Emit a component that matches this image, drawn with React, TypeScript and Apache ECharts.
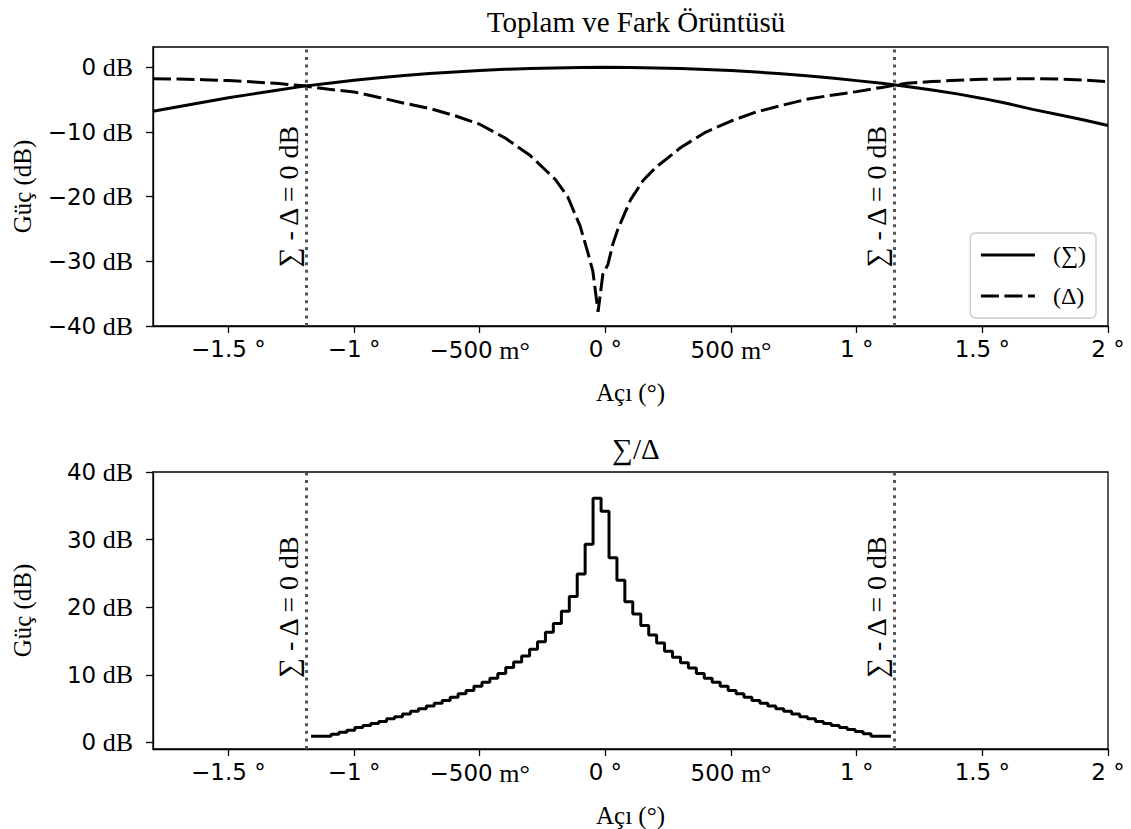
import React, { useEffect, useRef } from 'react';
import * as echarts from 'echarts';

// Top plot: sum pattern (Σ)
const sumX = [-1.8, -1.7, -1.6, -1.5, -1.4, -1.3, -1.2, -1.1, -1.0, -0.9, -0.8, -0.7, -0.6, -0.5, -0.4, -0.3, -0.2, -0.1, 0.0, 0.1, 0.2, 0.3, 0.4, 0.5, 0.6, 0.7, 0.8, 0.9, 1.0, 1.1, 1.2, 1.3, 1.4, 1.5, 1.6, 1.7, 1.8, 1.9, 2.0];
const sumY = [-6.8, -6.1, -5.4, -4.7, -4.1, -3.5, -2.9, -2.45, -2.0, -1.6, -1.25, -0.95, -0.7, -0.48, -0.3, -0.17, -0.08, -0.02, 0, -0.02, -0.08, -0.18, -0.32, -0.5, -0.72, -0.98, -1.3, -1.65, -2.05, -2.45, -2.95, -3.5, -4.1, -4.8, -5.6, -6.5, -7.3, -8.1, -9.0];

// Top plot: difference pattern (Δ)
const diffX = [-1.8, -1.7, -1.6, -1.5, -1.4, -1.3, -1.2, -1.1, -1.0, -0.9, -0.8, -0.7, -0.6, -0.5, -0.4, -0.3, -0.2, -0.15, -0.1, -0.07, -0.05, -0.029, -0.01, 0.01, 0.03, 0.05, 0.1, 0.15, 0.2, 0.3, 0.4, 0.5, 0.6, 0.7, 0.8, 0.9, 1.0, 1.1, 1.2, 1.3, 1.4, 1.5, 1.6, 1.7, 1.8, 1.9, 2.0];
const diffY = [-1.75, -1.8, -1.9, -2.05, -2.25, -2.5, -2.85, -3.4, -3.8, -4.65, -5.55, -6.35, -7.45, -8.8, -10.9, -13.6, -17.3, -20, -24.6, -28.6, -31.5, -37.8, -32, -30.5, -27.3, -25, -20.5, -17.5, -15.5, -12.4, -10.0, -8.3, -6.9, -5.9, -4.95, -4.3, -3.75, -3.1, -2.45, -2.2, -2.0, -1.85, -1.78, -1.75, -1.8, -1.95, -2.2];

// Bottom plot: Σ/Δ (step)
const ratioX = [-1.171, -1.139, -1.107, -1.076, -1.044, -1.013, -0.981, -0.949, -0.918, -0.886, -0.855, -0.823, -0.791, -0.760, -0.728, -0.697, -0.665, -0.633, -0.602, -0.570, -0.539, -0.507, -0.475, -0.444, -0.412, -0.381, -0.349, -0.317, -0.286, -0.254, -0.223, -0.191, -0.159, -0.128, -0.096, -0.065, -0.033, -0.001, 0.030, 0.062, 0.093, 0.125, 0.157, 0.188, 0.220, 0.251, 0.283, 0.315, 0.346, 0.378, 0.409, 0.441, 0.473, 0.504, 0.536, 0.567, 0.599, 0.631, 0.662, 0.694, 0.725, 0.757, 0.789, 0.820, 0.852, 0.883, 0.915, 0.947, 0.978, 1.010, 1.041, 1.073, 1.105, 1.136];
const ratioY = [0.9, 0.9, 0.9, 1.2, 1.5, 1.8, 2.2, 2.5, 2.8, 3.1, 3.5, 3.8, 4.2, 4.6, 5.0, 5.4, 5.8, 6.2, 6.7, 7.2, 7.7, 8.3, 8.9, 9.5, 10.2, 11.1, 11.9, 12.8, 13.8, 14.9, 16.3, 17.6, 19.4, 21.6, 24.9, 29.3, 36.1, 34.2, 27.3, 24.0, 20.8, 19.0, 17.3, 15.9, 14.7, 13.5, 12.6, 11.8, 11.0, 10.2, 9.5, 8.9, 8.3, 7.7, 7.2, 6.7, 6.2, 5.8, 5.4, 5.0, 4.6, 4.2, 3.8, 3.5, 3.1, 2.8, 2.5, 2.2, 1.9, 1.6, 1.3, 0.9, 0.9, 0.9];

// Crossing lines (Σ - Δ = 0 dB)
const crossX = [-1.19, 1.152];

// Tick values
const xTicks = [-1.5, -1, -0.5, 0, 0.5, 1, 1.5, 2];
const topYTicks = [-40, -30, -20, -10, 0];
const bottomYTicks = [0, 10, 20, 30, 40];

const SERIF = 'Liberation Serif';
const SANS = 'DejaVu Sans';

const num = (v: number) => String(v).replace('-', '\u2212');

const xFormatter = (v: number) => {
  if (v !== 0 && Math.abs(v) < 1) {
    return num(Math.round(v * 1000)) + '{serifu| m°}';
  }
  return num(v) + ' °';
};
const yFormatter = (v: number) => num(v) + '{serifu| dB}';

const rich = {
  serifu: { fontFamily: SERIF, fontSize: 26, color: '#000' },
};

const axisLineStyle = { color: '#000', width: 1.3 };

const makeX = (gridIndex: number) => ({
  type: 'value',
  gridIndex,
  min: -1.8,
  max: 2.0,
  axisLine: { show: true, onZero: false, lineStyle: axisLineStyle },
  axisTick: { show: true, customValues: xTicks, length: 7, lineStyle: axisLineStyle },
  axisLabel: {
    customValues: xTicks,
    formatter: xFormatter,
    rich,
    margin: 11,
    hideOverlap: false,
    fontFamily: SANS,
    fontSize: 23,
    color: '#000',
  },
  splitLine: { show: false },
  name: 'Açı (°)',
  nameLocation: 'middle',
  nameGap: 54,
  nameTextStyle: { fontFamily: SERIF, fontSize: 25, color: '#000' },
});

const makeY = (gridIndex: number, min: number, max: number, ticks: number[]) => ({
  type: 'value',
  gridIndex,
  min,
  max,
  axisLine: { show: true, onZero: false, lineStyle: axisLineStyle },
  axisTick: { show: true, customValues: ticks, length: 7, lineStyle: axisLineStyle },
  axisLabel: {
    customValues: ticks,
    formatter: yFormatter,
    rich,
    margin: 20,
    hideOverlap: false,
    fontFamily: SANS,
    fontSize: 23,
    color: '#000',
  },
  splitLine: { show: false },
  name: 'Güç (dB)',
  nameLocation: 'middle',
  nameGap: 118,
  nameTextStyle: { fontFamily: SERIF, fontSize: 25, color: '#000' },
});

const dotted = { color: '#555', width: 3, type: [3, 4.6] as any, cap: 'butt' };

const makeMarkLine = (yLo: number, yHi: number) => ({
  silent: true,
  symbol: 'none',
  animation: false,
  data: [
    ...crossX.map((x) => ({ xAxis: x, lineStyle: dotted, label: { show: false } })),
    ...crossX.map((x) => [
      {
        coord: [x, yLo],
        lineStyle: { color: 'rgba(0,0,0,0)', width: 0 },
        label: {
          show: true,
          position: 'middle',
          distance: 4,
          formatter: '∑ - Δ = 0 dB',
          fontFamily: SERIF,
          fontSize: 28,
          color: '#000',
        },
      },
      { coord: [x, yHi] },
    ]),
  ],
});

const pairs = (xs: number[], ys: number[]) => xs.map((x, i) => [x, ys[i]]);

export default function App() {
  const ref = useRef<HTMLDivElement>(null);
  useEffect(() => {
    const chart = echarts.init(ref.current!, null, { renderer: 'svg' });
    const option: any = {
      animation: false,
      backgroundColor: '#fff',
      title: [
        {
          text: 'Toplam ve Fark Örüntüsü',
          left: 631,
          top: 2,
          textAlign: 'center',
          textStyle: { fontFamily: SERIF, fontSize: 29, fontWeight: 'normal', color: '#000' },
        },
        {
          text: '∑/Δ',
          left: 631,
          top: 429,
          textAlign: 'center',
          textStyle: { fontFamily: SERIF, fontSize: 29, fontWeight: 'normal', color: '#000' },
        },
      ],
      legend: {
        data: ['(∑)', '(Δ)'],
        orient: 'vertical',
        right: 35,
        top: 233,
        itemWidth: 54,
        itemHeight: 20,
        itemGap: 17,
        padding: [10, 10, 10, 9],
        borderColor: '#ccc',
        borderWidth: 1.3,
        borderRadius: 5,
        backgroundColor: 'rgba(255,255,255,0.8)',
        itemStyle: { opacity: 0 },
        lineStyle: { width: 3.2 },
        textStyle: { fontFamily: SERIF, fontSize: 24, color: '#000', padding: [0, 0, 0, 13] },
      },
      grid: [
        { left: 153, right: 23, top: 47, height: 279, show: true, borderColor: '#000', borderWidth: 1.3, outerBoundsMode: 'none' },
        { left: 153, right: 23, top: 472, height: 277, show: true, borderColor: '#000', borderWidth: 1.3, outerBoundsMode: 'none' },
      ],
      xAxis: [makeX(0), makeX(1)],
      yAxis: [makeY(0, -40, 3.15, topYTicks), makeY(1, -0.97, 40, bottomYTicks)],
      series: [
        {
          name: '(∑)',
          type: 'line',
          xAxisIndex: 0,
          yAxisIndex: 0,
          data: pairs(sumX, sumY),
          symbol: 'none',
          smooth: false,
          lineStyle: { color: '#000', width: 3 },
          itemStyle: { color: '#000' },
          markLine: makeMarkLine(-40, 0),
        },
        {
          name: '(Δ)',
          type: 'line',
          xAxisIndex: 0,
          yAxisIndex: 0,
          data: pairs(diffX, diffY),
          symbol: 'none',
          lineStyle: { color: '#000', width: 3, type: [18, 5.5] },
          itemStyle: { color: '#000' },
        },
        {
          name: 'ratio',
          type: 'line',
          xAxisIndex: 1,
          yAxisIndex: 1,
          data: pairs(ratioX, ratioY),
          symbol: 'none',
          step: 'middle',
          lineStyle: { color: '#000', width: 3 },
          itemStyle: { color: '#000' },
          markLine: makeMarkLine(0, 40),
        },
      ],
    };
    chart.setOption(option);
    return () => chart.dispose();
  }, []);
  return <div ref={ref} style={{ position: 'fixed', left: 0, top: 0, width: 1131, height: 829 }} />;
}
